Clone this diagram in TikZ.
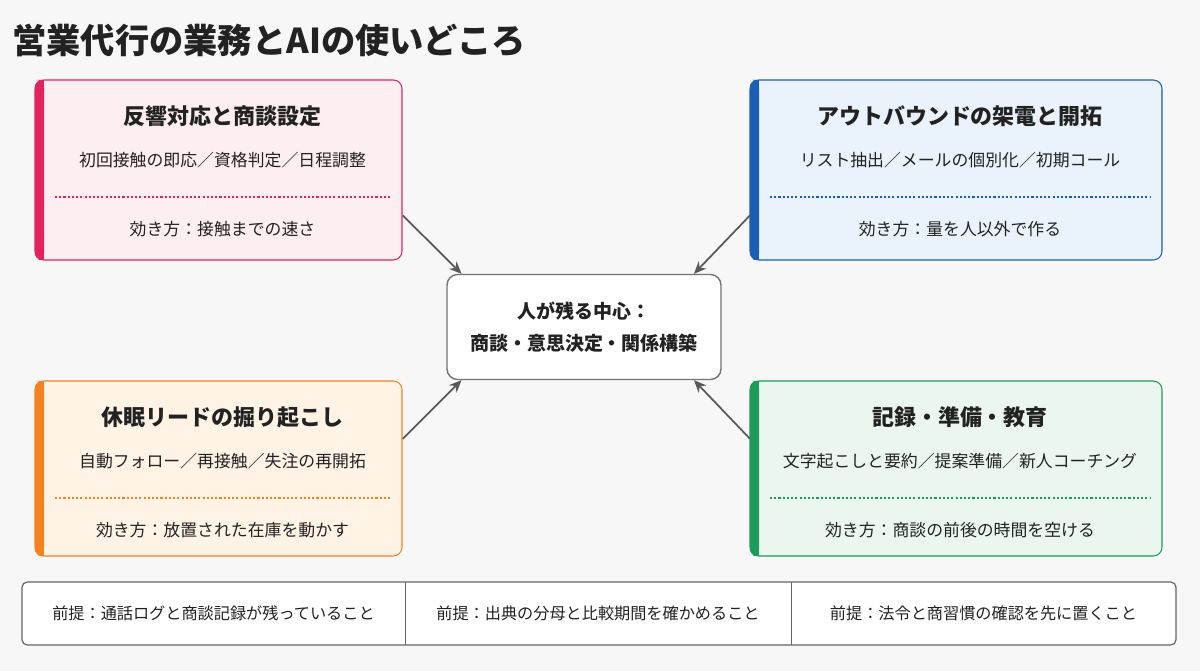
\documentclass[tikz,border=0pt]{standalone}
\usepackage{fontspec}
\setmainfont{Noto Sans CJK JP}
\usetikzlibrary{arrows.meta,positioning}
\definecolor{bgc}{HTML}{F7F7F7}
\definecolor{pinkc}{HTML}{E2245E}
\definecolor{pinkf}{HTML}{FDEEF1}
\definecolor{bluec}{HTML}{1A5FB4}
\definecolor{bluef}{HTML}{EAF2FB}
\definecolor{orangec}{HTML}{F58220}
\definecolor{orangef}{HTML}{FFF3E6}
\definecolor{greenc}{HTML}{1E9A5A}
\definecolor{greenf}{HTML}{EAF6EE}
\definecolor{inkc}{HTML}{222222}
\tikzset{
  heading/.style={font=\bfseries\fontsize{12.5}{14}\selectfont, text=inkc},
  body/.style={font=\fontsize{9.6}{11}\selectfont, text=inkc},
  arr/.style={draw=black!65, line width=1pt, -{Stealth[length=7pt,width=6pt]}},
  hub/.style={draw=black!55, line width=0.8pt, rounded corners=6pt, fill=white, minimum width=5.48cm, minimum height=2.1cm, align=center, font=\bfseries\fontsize{10.8}{18}\selectfont, text=inkc},
  cell/.style={font=\fontsize{9.2}{11}\selectfont, text=inkc}
}
\newcommand{\cardw}{367}
% one card: name, colour, fill, left x, top y, height, texts
\newcommand{\usecard}[9]{%
  \fill[#3, rounded corners=5pt] (#4,#5) rectangle ++(\cardw,#6);
  \fill[#2, rounded corners=4pt] (#4,#5) rectangle ++(9,#6);
  \fill[#2] (#4+5,#5) rectangle ++(4,#6);
  \draw[#2, line width=0.6pt, rounded corners=5pt] (#4,#5) rectangle ++(\cardw,#6);
  \node[minimum width=\cardw*0.02cm, minimum height=#6*0.02cm, anchor=north west] (#1) at (#4,#5) {};
  \node[heading] (#1h) at (#4+\cardw/2+4,#5+36) {#7};
  \node[body] (#1l) at (#4+\cardw/2+4,#5+80) {#8};
  \draw[#2, dash pattern=on 1.2pt off 1.2pt, line width=0.6pt] (#4+20,#5+117) -- (#4+\cardw-12,#5+117);
  \node[body] (#1e) at (#4+\cardw/2+4,#5+149) {#9};
}
\begin{document}
\begin{tikzpicture}[x=0.02cm, y=-0.02cm]
  \fill[bgc] (0,0) rectangle (1200,671);
  \useasboundingbox (0,0) rectangle (1200,671);

  % title
  \node[anchor=west, inner sep=0pt, font=\bfseries\fontsize{19.5}{22}\selectfont, text=inkc] (title) at (12,40) {営業代行の業務とAIの使いどころ};

  % cards
  \usecard{resp}{pinkc}{pinkf}{35}{80}{180}{反響対応と商談設定}{初回接触の即応／資格判定／日程調整}{効き方：接触までの速さ}
  \usecard{dorm}{orangec}{orangef}{35}{381}{175}{休眠リードの掘り起こし}{自動フォロー／再接触／失注の再開拓}{効き方：放置された在庫を動かす}
  \renewcommand{\cardw}{412}
  \usecard{outb}{bluec}{bluef}{750}{80}{180}{アウトバウンドの架電と開拓}{リスト抽出／メールの個別化／初期コール}{効き方：量を人以外で作る}
  \usecard{recd}{greenc}{greenf}{750}{381}{175}{記録・準備・教育}{文字起こしと要約／提案準備／新人コーチング}{効き方：商談の前後の時間を空ける}

  % centre
  \node[hub] (core) at (584,327) {人が残る中心：\\商談・意思決定・関係構築};

  \draw[arr] ([yshift=-0.9cm]resp.east) -- ([xshift=-2.45cm]core.north);
  \draw[arr] ([yshift=-0.9cm]outb.west) -- ([xshift=2.2cm]core.north);
  \draw[arr] ([yshift=0.6cm]dorm.east) -- ([xshift=-2.45cm]core.south);
  \draw[arr] ([yshift=0.6cm]recd.west) -- ([xshift=2.2cm]core.south);

  % premises row
  \draw[black!60, line width=0.7pt, rounded corners=3pt, fill=white] (22,582) rectangle (1176,645);
  \node[minimum width=383*0.02cm, minimum height=63*0.02cm] (p1) at (213.5,613.5) {};
  \node[minimum width=386*0.02cm, minimum height=63*0.02cm] (p2) at (598,613.5) {};
  \node[minimum width=385*0.02cm, minimum height=63*0.02cm] (p3) at (983.5,613.5) {};
  \draw[black!60, line width=0.7pt] (p1.north east) -- (p1.south east);
  \draw[black!60, line width=0.7pt] (p2.north east) -- (p2.south east);
  \node[cell] at (p1) {前提：通話ログと商談記録が残っていること};
  \node[cell] at (p2) {前提：出典の分母と比較期間を確かめること};
  \node[cell] at (p3) {前提：法令と商習慣の確認を先に置くこと};
\end{tikzpicture}
\end{document}
